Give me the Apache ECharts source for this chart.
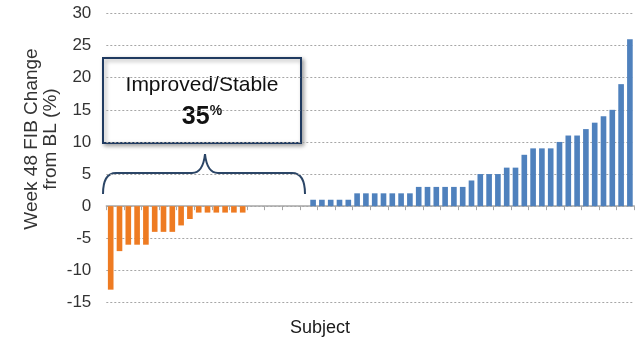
<!DOCTYPE html>
<html>
<head>
<meta charset="utf-8">
<script src="https://cdn.jsdelivr.net/npm/echarts@6/dist/echarts.min.js"></script>
<style>
html,body{margin:0;padding:0;background:#fff;}
#chart{width:643px;height:344px;}
</style>
</head>
<body>
<div id="chart"></div>
<script>
// ---- data ----
var subjects = [];
for (var i = 1; i <= 60; i++) subjects.push(String(i));
var fibChange = [
  -13, -7, -6, -6, -6, -4, -4, -4, -3, -2, -1, -1, -1, -1, -1, -1,
  0, 0, 0, 0, 0, 0, 0,
  1, 1, 1, 1, 1,
  2, 2, 2, 2, 2, 2, 2,
  3, 3, 3, 3, 3, 3,
  4,
  5, 5, 5,
  6, 6,
  8,
  9, 9, 9,
  10,
  11, 11,
  12, 13, 14, 15, 19, 26
];
var yTicks = [-15, -10, -5, 0, 5, 10, 15, 20, 25, 30];
var boxTitle = 'Improved/Stable';
var boxPct = '35';
var yName = 'Week 48 FIB Change\nfrom BL (%)';
var xName = 'Subject';

var ORANGE = '#EE7B22';
var BLUE = '#4F81BD';
var FONT = 'Liberation Sans, Arial, Helvetica, sans-serif';
var BRACE = '#2B4566';

var chart = echarts.init(document.getElementById('chart'), null, {renderer: 'canvas'});
chart.setOption({
  animation: false,
  backgroundColor: '#ffffff',
  grid: {left: 106.3, right: 8.7, top: 13.5, bottom: 41.5, containLabel: false},
  xAxis: {
    type: 'category',
    data: subjects,
    boundaryGap: true,
    axisLine: {show: true, onZero: true, lineStyle: {color: '#A6A6A6', width: 1.5}},
    axisTick: {show: true, length: 4, lineStyle: {color: '#A6A6A6'}},
    axisLabel: {show: false},
    splitLine: {show: false}
  },
  yAxis: {
    type: 'value',
    min: yTicks[0],
    max: yTicks[yTicks.length - 1],
    interval: 5,
    axisLine: {show: false},
    axisTick: {show: false},
    axisLabel: {fontSize: 17, color: '#333333', fontFamily: FONT, margin: 15},
    splitLine: {show: true, lineStyle: {color: '#A6A6A6', type: [2, 2], width: 1}}
  },
  series: [{
    type: 'bar',
    barCategoryGap: '36%',
    data: fibChange.map(function (v) {
      return {value: v, itemStyle: {color: v < 0 ? ORANGE : BLUE}};
    })
  }],
  graphic: [
    {
      type: 'text', x: 41, y: 139, rotation: Math.PI / 2,
      style: {text: yName, font: '19px ' + FONT, fill: '#333333', textAlign: 'center', textVerticalAlign: 'middle', lineHeight: 19}
    },
    {
      type: 'text', x: 320, y: 328,
      style: {text: xName, font: '18px ' + FONT, fill: '#1a1a1a', textAlign: 'center', textVerticalAlign: 'middle'}
    },
    {
      type: 'rect', shape: {x: 103, y: 58, width: 198, height: 85},
      style: {fill: '#ffffff', stroke: '#1F3A60', lineWidth: 2, shadowBlur: 4, shadowColor: 'rgba(0,0,0,0.35)', shadowOffsetX: 2, shadowOffsetY: 2}
    },
    {
      type: 'text', x: 202, y: 85,
      style: {text: boxTitle, font: '21px ' + FONT, fill: '#111111', textAlign: 'center', textVerticalAlign: 'middle'}
    },
    {
      type: 'text', x: 202, y: 117,
      style: {
        text: '{a|' + boxPct + '}{b|%}',
        textAlign: 'center', textVerticalAlign: 'middle',
        rich: {
          a: {font: 'bold 25px ' + FONT, fill: '#111111'},
          b: {font: 'bold 14px ' + FONT, fill: '#111111', verticalAlign: 'top', padding: [0, 0, 10, 0]}
        }
      }
    },
    {type: 'bezierCurve', shape: {x1: 103, y1: 194, cpx1: 103, cpy1: 173, x2: 116, y2: 173}, style: {fill: 'none', stroke: BRACE, lineWidth: 2}},
    {type: 'line', shape: {x1: 116, y1: 173, x2: 192, y2: 173}, style: {stroke: BRACE, lineWidth: 2}},
    {type: 'bezierCurve', shape: {x1: 192, y1: 173, cpx1: 203, cpy1: 173, x2: 205, y2: 154}, style: {fill: 'none', stroke: BRACE, lineWidth: 2}},
    {type: 'bezierCurve', shape: {x1: 205, y1: 154, cpx1: 207, cpy1: 173, x2: 218, y2: 173}, style: {fill: 'none', stroke: BRACE, lineWidth: 2}},
    {type: 'line', shape: {x1: 218, y1: 173, x2: 292, y2: 173}, style: {stroke: BRACE, lineWidth: 2}},
    {type: 'bezierCurve', shape: {x1: 292, y1: 173, cpx1: 305, cpy1: 173, x2: 305, y2: 194}, style: {fill: 'none', stroke: BRACE, lineWidth: 2}}
  ]
});
</script>
</body>
</html>
